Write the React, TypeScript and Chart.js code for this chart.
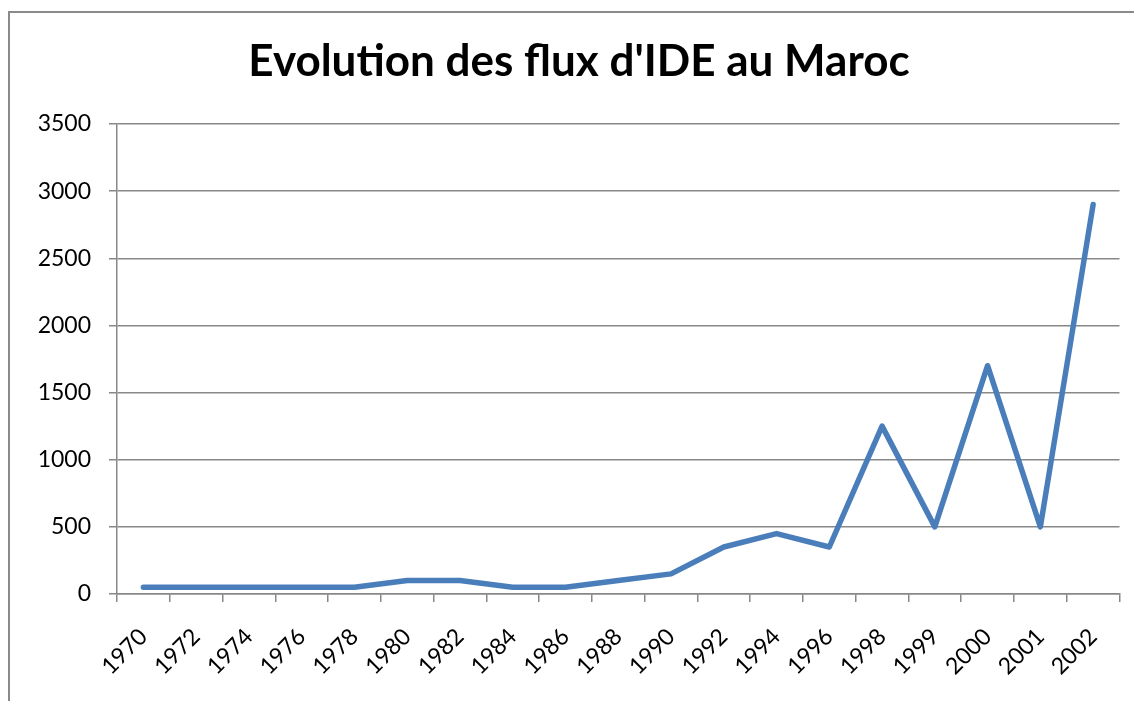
import React, { useEffect, useRef } from "react";
import { Chart, registerables } from "chart.js";

Chart.register(...registerables);

const chartTitle = "Evolution des flux d'IDE au Maroc";
const years = [
  "1970", "1972", "1974", "1976", "1978", "1980", "1982", "1984", "1986", "1988",
  "1990", "1992", "1994", "1996", "1998", "1999", "2000", "2001", "2002",
];
const fdiFlows = [50, 50, 50, 50, 50, 100, 100, 50, 50, 100, 150, 350, 450, 350, 1250, 500, 1700, 500, 2900];
const yMin = 0;
const yMax = 3500;
const yStep = 500;

const GRID = "#888888";
const LINE = "#4A7EBB";
const FONT = "Lato";

export default function App() {
  const canvasRef = useRef<HTMLCanvasElement | null>(null);

  useEffect(() => {
    const canvas = canvasRef.current;
    if (!canvas) return;
    const chart = new Chart(canvas, {
      type: "line",
      data: {
        labels: years,
        datasets: [
          {
            label: "IDE",
            data: fdiFlows,
            borderColor: LINE,
            backgroundColor: LINE,
            borderWidth: 5.5,
            pointRadius: 0,
            pointHoverRadius: 0,
            tension: 0,
            borderCapStyle: "round",
            borderJoinStyle: "round",
            fill: false,
          },
        ],
      },
      options: {
        animation: false,
        responsive: false,
        maintainAspectRatio: false,
        devicePixelRatio: 1,
        layout: { padding: { left: 38, right: 14, top: 0, bottom: 0 } },
        plugins: {
          legend: { display: false },
          tooltip: { enabled: false },
          title: {
            display: true,
            text: chartTitle,
            color: "#000",
            font: { family: FONT, size: 44, weight: "bold", lineHeight: 1.2 },
            padding: { top: 35, bottom: 36.2 },
          },
        },
        scales: {
          x: {
            type: "category",
            offset: true,
            grid: {
              offset: true,
              drawOnChartArea: false,
              drawTicks: true,
              tickLength: 8,
              color: GRID,
              lineWidth: 1.5,
            },
            border: { display: true, color: GRID, width: 1.5 },
            ticks: {
              color: "#000",
              font: { family: FONT, size: 23 },
              minRotation: 45,
              maxRotation: 45,
              autoSkip: false,
              padding: 21,
            },
            afterFit: (scale: any) => {
              scale.height = 107;
            },
          },
          y: {
            min: yMin,
            max: yMax,
            grid: {
              color: GRID,
              lineWidth: 1.5,
              drawTicks: true,
              tickLength: 8,
            },
            border: { display: true, color: GRID, width: 1.5 },
            ticks: {
              stepSize: yStep,
              color: "#000",
              font: { family: FONT, size: 23 },
              padding: 18,
              callback: (value: any) => String(value),
            },
            afterFit: (scale: any) => {
              scale.width = 79;
            },
          },
        },
      },
    });
    return () => chart.destroy();
  }, []);

  return (
    <div
      style={{
        position: "fixed",
        left: 0,
        top: 0,
        width: 1134,
        height: 701,
        overflow: "hidden",
        background: "#fff",
      }}
    >
      <div
        style={{
          position: "absolute",
          left: 8,
          top: 11,
          width: 1160,
          height: 720,
          border: "2px solid #8a8a8a",
          boxSizing: "border-box",
        }}
      />
      <canvas
        ref={canvasRef}
        width={1134}
        height={701}
        style={{ position: "absolute", left: 0, top: 0, width: 1134, height: 701 }}
      />
    </div>
  );
}
